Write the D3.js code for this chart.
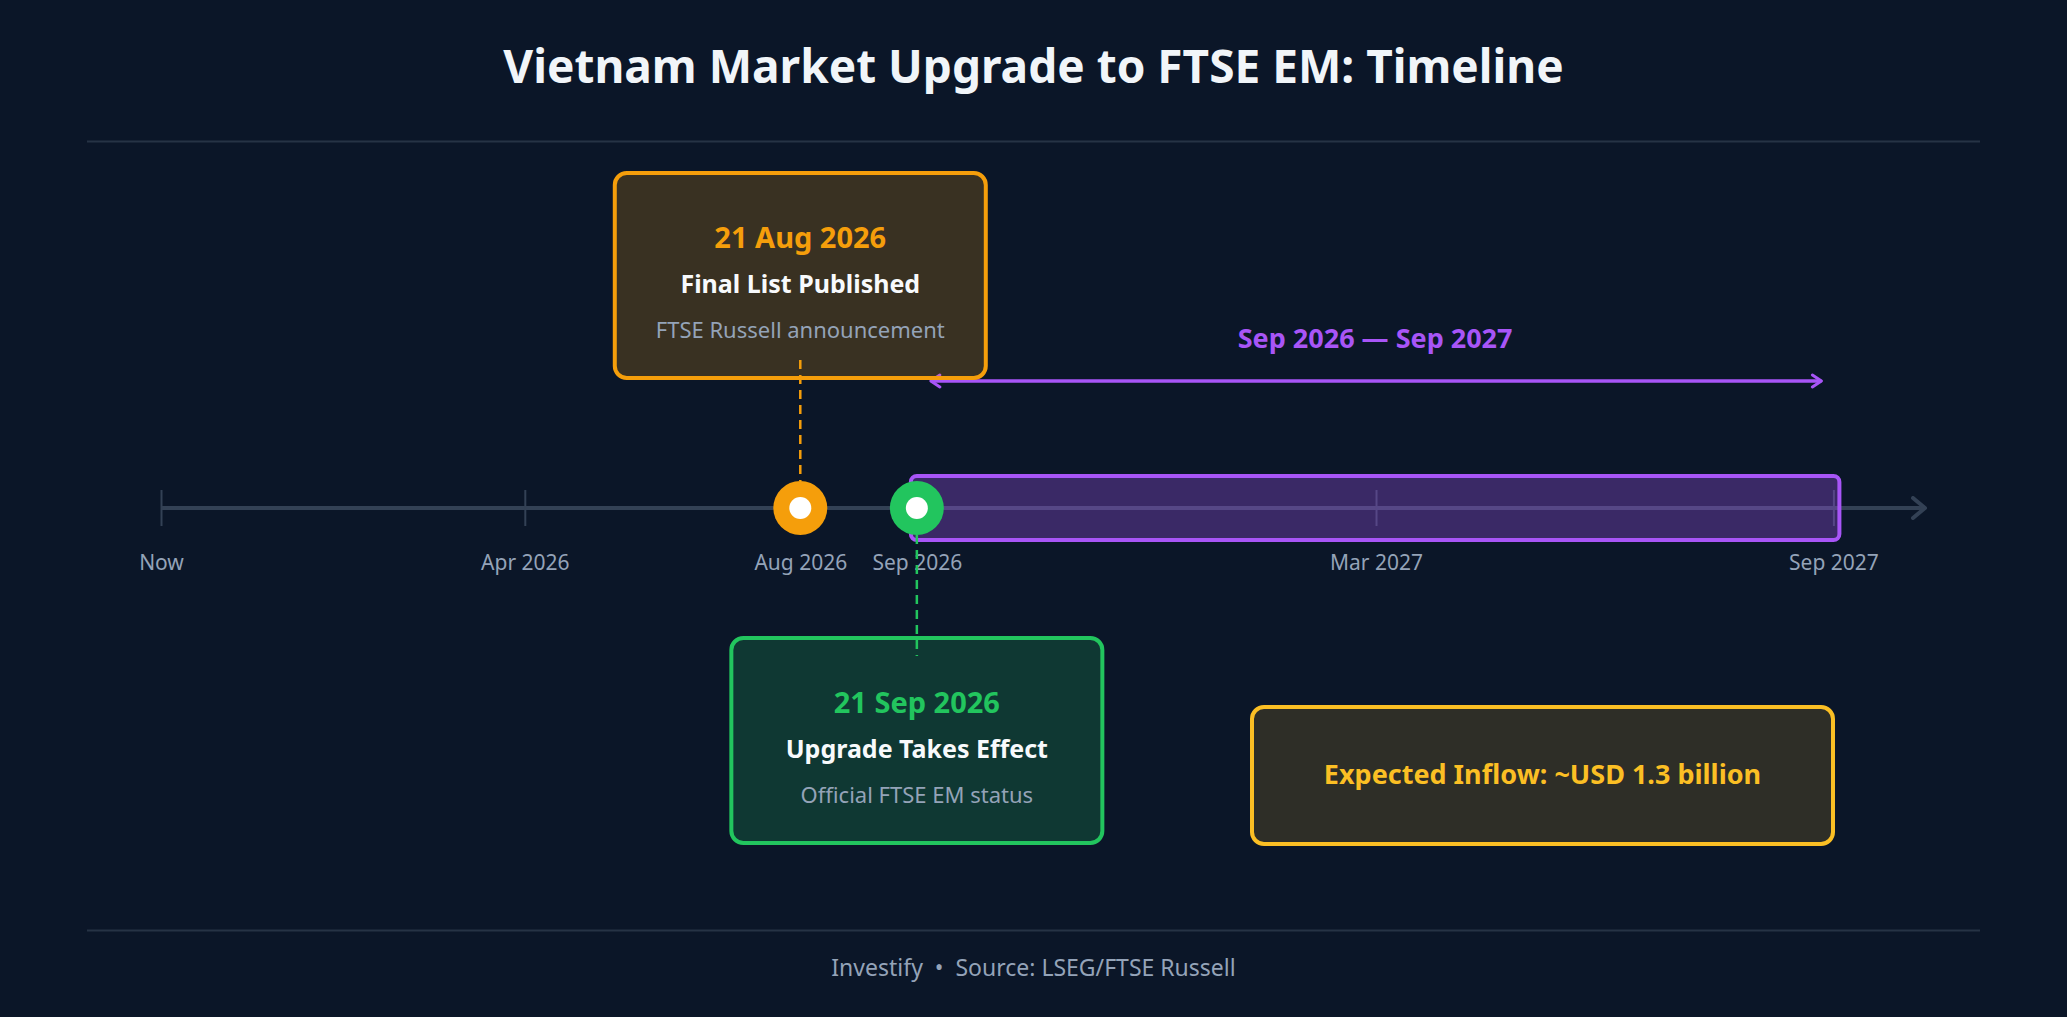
<!DOCTYPE html>
<html>
<head>
<meta charset="utf-8">
<script src="https://cdn.jsdelivr.net/npm/d3@7"></script>
<style>
  html, body { margin: 0; padding: 0; background: #0b1628; }
  svg { display: block; font-family: "Noto Sans", "Open Sans", sans-serif; }
</style>
</head>
<body>
<svg id="chart"></svg>
<script>
// timeline ticks (position along the timeline, 0 = now, 100 = end of axis)
var tickLabels = ["Now", "Apr 2026", "Aug 2026", "Sep 2026", "Mar 2027", "Sep 2027"];
var tickPos = [0, 20.6, 36.2, 42.8, 68.8, 94.7];

// milestones
var eventDates = ["21 Aug 2026", "21 Sep 2026"];
var eventTitles = ["Final List Published", "Upgrade Takes Effect"];
var eventNotes = ["FTSE Russell announcement", "Official FTSE EM status"];
var eventPos = [36.2, 42.8];
var eventSide = ["above", "below"];
var eventColors = ["#f59e0b", "#22c55e"];

// index inclusion window
var rangeLabel = "Sep 2026 \u2014 Sep 2027";
var rangeStart = 42.8;
var rangeEnd = 94.7;

var inflowText = "Expected Inflow: ~USD 1.3 billion";
var titleText = "Vietnam Market Upgrade to FTSE EM: Timeline";
var footerText = "Investify  \u2022  Source: LSEG/FTSE Russell";

var width = 2067, height = 1017;
var axisY = 508;
var purple = "#a855f7";

var svg = d3.select("#chart")
    .attr("width", width)
    .attr("height", height);

svg.append("rect")
    .attr("width", width)
    .attr("height", height)
    .attr("fill", "#0b1628");

var defs = svg.append("defs");
defs.append("marker")
    .attr("id", "axisArrow")
    .attr("viewBox", "0 0 24 24")
    .attr("refX", 20).attr("refY", 12)
    .attr("markerWidth", 24).attr("markerHeight", 24)
    .attr("markerUnits", "userSpaceOnUse")
    .attr("orient", "auto")
    .append("path")
    .attr("d", "M8 2 L20 12 L8 22")
    .attr("fill", "none")
    .attr("stroke", "#334155")
    .attr("stroke-width", 4)
    .attr("stroke-linecap", "round")
    .attr("stroke-linejoin", "round");
defs.append("marker")
    .attr("id", "rangeArrow")
    .attr("viewBox", "0 0 16 16")
    .attr("refX", 13).attr("refY", 8)
    .attr("markerWidth", 16).attr("markerHeight", 16)
    .attr("markerUnits", "userSpaceOnUse")
    .attr("orient", "auto-start-reverse")
    .append("path")
    .attr("d", "M4 2 L13 8 L4 14")
    .attr("fill", "none")
    .attr("stroke", purple)
    .attr("stroke-width", 3)
    .attr("stroke-linecap", "round")
    .attr("stroke-linejoin", "round");

// title + rules
svg.append("text")
    .attr("x", width / 2)
    .attr("y", 83)
    .attr("text-anchor", "middle")
    .attr("fill", "#f1f5f9")
    .attr("font-size", 46)
    .attr("font-weight", 700)
    .text(titleText);

svg.selectAll("line.rule")
    .data([141.5, 930.5])
    .enter()
    .append("line")
    .attr("class", "rule")
    .attr("x1", 87).attr("x2", 1980)
    .attr("y1", function (d) { return d; })
    .attr("y2", function (d) { return d; })
    .attr("stroke", "#263345")
    .attr("stroke-width", 2);

var x = d3.scaleLinear().domain([0, 100]).range([161, 1927]);

// main axis line
svg.append("line")
    .attr("x1", x(0)).attr("x2", x(100) - 2)
    .attr("y1", axisY).attr("y2", axisY)
    .attr("stroke", "#334155")
    .attr("stroke-width", 4)
    .attr("marker-end", "url(#axisArrow)");

// ticks + labels
var axis = d3.axisBottom(x)
    .tickValues(tickPos)
    .tickFormat(function (d, i) { return tickLabels[i]; })
    .tickSize(36)
    .tickPadding(29);
var axisG = svg.append("g")
    .attr("transform", "translate(0," + (axisY - 18) + ")")
    .call(axis);
axisG.select(".domain").remove();
axisG.selectAll(".tick line")
    .attr("stroke", "#334155")
    .attr("stroke-width", 2);
axisG.selectAll(".tick text")
    .attr("fill", "#94a3b8")
    .attr("font-size", 21)
    .attr("font-family", "Noto Sans, Open Sans, sans-serif");

// range band
svg.append("rect")
    .attr("x", x(rangeStart) - 6)
    .attr("y", axisY - 32)
    .attr("width", x(rangeEnd) - x(rangeStart) + 12)
    .attr("height", 64)
    .attr("rx", 6)
    .attr("fill", purple)
    .attr("fill-opacity", 0.3)
    .attr("stroke", purple)
    .attr("stroke-width", 4);

svg.append("line")
    .attr("x1", x(rangeStart) + 14)
    .attr("x2", x(rangeEnd) - 12)
    .attr("y1", 381).attr("y2", 381)
    .attr("stroke", purple)
    .attr("stroke-width", 3.5)
    .attr("marker-start", "url(#rangeArrow)")
    .attr("marker-end", "url(#rangeArrow)");

svg.append("text")
    .attr("x", (x(rangeStart) + x(rangeEnd)) / 2)
    .attr("y", 348)
    .attr("text-anchor", "middle")
    .attr("fill", purple)
    .attr("font-size", 27)
    .attr("font-weight", 700)
    .text(rangeLabel);

// milestone cards
var cardW = 371, cardH = 205;
var events = eventDates.map(function (d, i) {
    return { date: d, title: eventTitles[i], note: eventNotes[i],
             pos: eventPos[i], side: eventSide[i], color: eventColors[i] };
});

var ev = svg.selectAll("g.event")
    .data(events)
    .enter()
    .append("g")
    .attr("class", "event");

ev.append("line")
    .attr("x1", function (d) { return x(d.pos); })
    .attr("x2", function (d) { return x(d.pos); })
    .attr("y1", function (d) { return d.side === "above" ? 360 : axisY + 27; })
    .attr("y2", function (d) { return d.side === "above" ? axisY - 27 : 656; })
    .attr("stroke", function (d) { return d.color; })
    .attr("stroke-width", 2.5)
    .attr("stroke-dasharray", "9,6");

var card = ev.append("g")
    .attr("transform", function (d) {
        var top = d.side === "above" ? 173 : 638;
        return "translate(" + (x(d.pos) - cardW / 2) + "," + top + ")";
    });
card.append("rect")
    .attr("width", cardW)
    .attr("height", cardH)
    .attr("rx", 12)
    .attr("fill", function (d) { return d.color; })
    .attr("fill-opacity", 0.2)
    .attr("stroke", function (d) { return d.color; })
    .attr("stroke-width", 4);
card.append("text")
    .attr("x", cardW / 2).attr("y", 75)
    .attr("text-anchor", "middle")
    .attr("fill", function (d) { return d.color; })
    .attr("font-size", 29)
    .attr("font-weight", 700)
    .text(function (d) { return d.date; });
card.append("text")
    .attr("x", cardW / 2).attr("y", 120)
    .attr("text-anchor", "middle")
    .attr("fill", "#f8fafc")
    .attr("font-size", 25)
    .attr("font-weight", 700)
    .text(function (d) { return d.title; });
card.append("text")
    .attr("x", cardW / 2).attr("y", 165)
    .attr("text-anchor", "middle")
    .attr("fill", "#94a3b8")
    .attr("font-size", 22)
    .text(function (d) { return d.note; });

// dots on the axis
ev.append("circle")
    .attr("cx", function (d) { return x(d.pos); })
    .attr("cy", axisY)
    .attr("r", 27)
    .attr("fill", function (d) { return d.color; });
ev.append("circle")
    .attr("cx", function (d) { return x(d.pos); })
    .attr("cy", axisY)
    .attr("r", 11)
    .attr("fill", "#ffffff");

// inflow box
var inflow = svg.append("g").attr("transform", "translate(1252,707)");
inflow.append("rect")
    .attr("width", 581)
    .attr("height", 137)
    .attr("rx", 12)
    .attr("fill", "#fbbf24")
    .attr("fill-opacity", 0.15)
    .attr("stroke", "#fbbf24")
    .attr("stroke-width", 4);
inflow.append("text")
    .attr("x", 581 / 2).attr("y", 77)
    .attr("text-anchor", "middle")
    .attr("fill", "#fbbf24")
    .attr("font-size", 27)
    .attr("font-weight", 700)
    .text(inflowText);

// footer
svg.append("text")
    .attr("x", width / 2)
    .attr("y", 976)
    .attr("text-anchor", "middle")
    .attr("fill", "#94a3b8")
    .attr("font-size", 23)
    .attr("xml:space", "preserve")
    .style("white-space", "pre")
    .text(footerText);
</script>
</body>
</html>
